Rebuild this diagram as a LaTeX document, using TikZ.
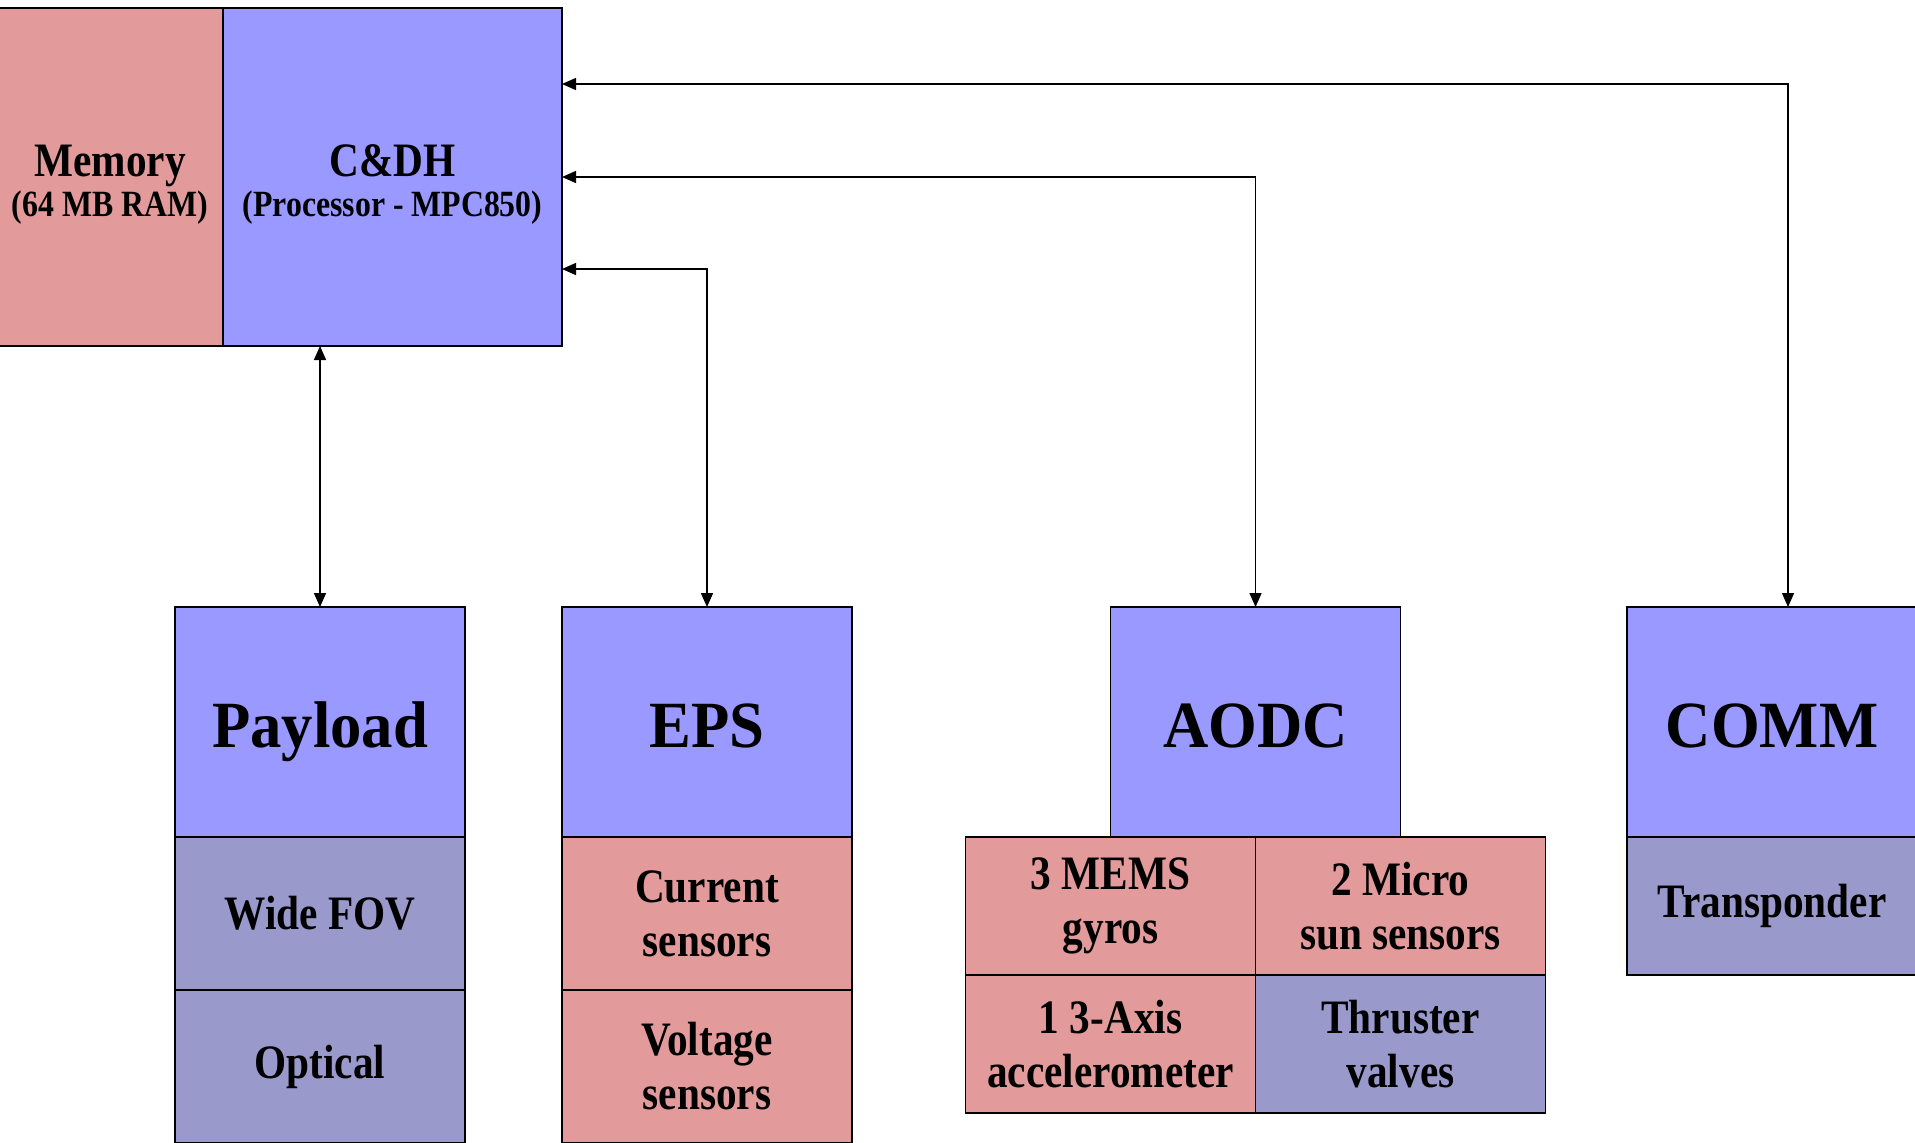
\documentclass[tikz,border=0pt]{standalone}
\usepackage{fontspec}
\newfontfamily\titlefont{Liberation Serif}[FakeStretch=0.95]
\newfontfamily\cellfont{Liberation Serif}[FakeStretch=0.86]
\usetikzlibrary{arrows.meta, positioning}
\definecolor{cpublue}{RGB}{153,153,255}
\definecolor{sensorpink}{RGB}{226,154,154}
\definecolor{devicegrey}{RGB}{153,153,204}

\begin{document}
\begin{tikzpicture}[
    x=0.5pt, y=-0.5pt,
    node distance=0pt,
    block/.style={rectangle, draw=black, line width=0.8pt, inner sep=0pt, outer sep=0pt, align=center},
    title/.style={block, fill=cpublue, minimum width=145pt, minimum height=115pt, text height=30pt, text depth=5pt, font=\titlefont\bfseries\fontsize{33}{36}\selectfont},
    cell/.style={block, minimum width=145pt, font=\cellfont\bfseries\fontsize{24}{27}\selectfont},
    sensor/.style={cell, fill=sensorpink},
    device/.style={cell, fill=devicegrey},
    link/.style={draw, line width=0.75pt, {Triangle[length=7pt,width=6pt]}-{Triangle[length=7pt,width=6pt]}}
]
    \path[use as bounding box, clip] (0,0) rectangle (1915,1142);

    % processor board
    \node [cell, fill=sensorpink, minimum width=113pt, minimum height=169pt] (mem) at (110,177)
        {\rule{0pt}{23.5pt}Memory\\[-7pt]{\fontsize{18.5}{22}\selectfont(64 MB RAM)}};
    \node [cell, fill=cpublue, minimum width=169.5pt, minimum height=169pt, right=of mem] (cdh)
        {\rule{0pt}{23.5pt}C\&DH\\[-7pt]{\fontsize{18.5}{22}\selectfont(Processor - MPC850)}};

    % subsystems
    \node [title] (pay) at (320,722) {Payload};
    \node [device, minimum height=76.5pt, below=of pay] (widefov) {Wide FOV};
    \node [device, minimum height=76.5pt, below=of widefov] (optical) {Optical};

    \node [title] (eps) at (707,722) {EPS};
    \node [sensor, minimum height=76.5pt, below=of eps] (current) {Current\\sensors};
    \node [sensor, minimum height=76.5pt, below=of current] (voltage) {Voltage\\sensors};

    \node [title] (aodc) at (1255.5,722) {AODC};
    \node [sensor, minimum height=69pt, below left=0pt and 0pt of aodc.south] (gyro) {3 MEMS\\gyros};
    \node [sensor, minimum height=69pt, below right=0pt and 0pt of aodc.south] (sun) {2 Micro\\sun sensors};
    \node [sensor, minimum height=69pt, below=of gyro] (accel) {1 3-Axis\\accelerometer};
    \node [device, minimum height=69pt, below=of sun] (thruster) {Thruster\\valves};

    \node [title] (comm) at (1772,722) {COMM};
    \node [device, minimum height=69pt, below=of comm] (transp) {Transponder};

    % data links
    \draw [link] (pay.north) -- (pay.north |- cdh.south);
    \draw [link] (eps.north) |- ([yshift=-46pt]cdh.east);
    \draw [link] (aodc.north) |- (cdh.east);
    \draw [link] ([xshift=8pt]comm.north) |- ([yshift=46.5pt]cdh.east);

\end{tikzpicture}
\end{document}
